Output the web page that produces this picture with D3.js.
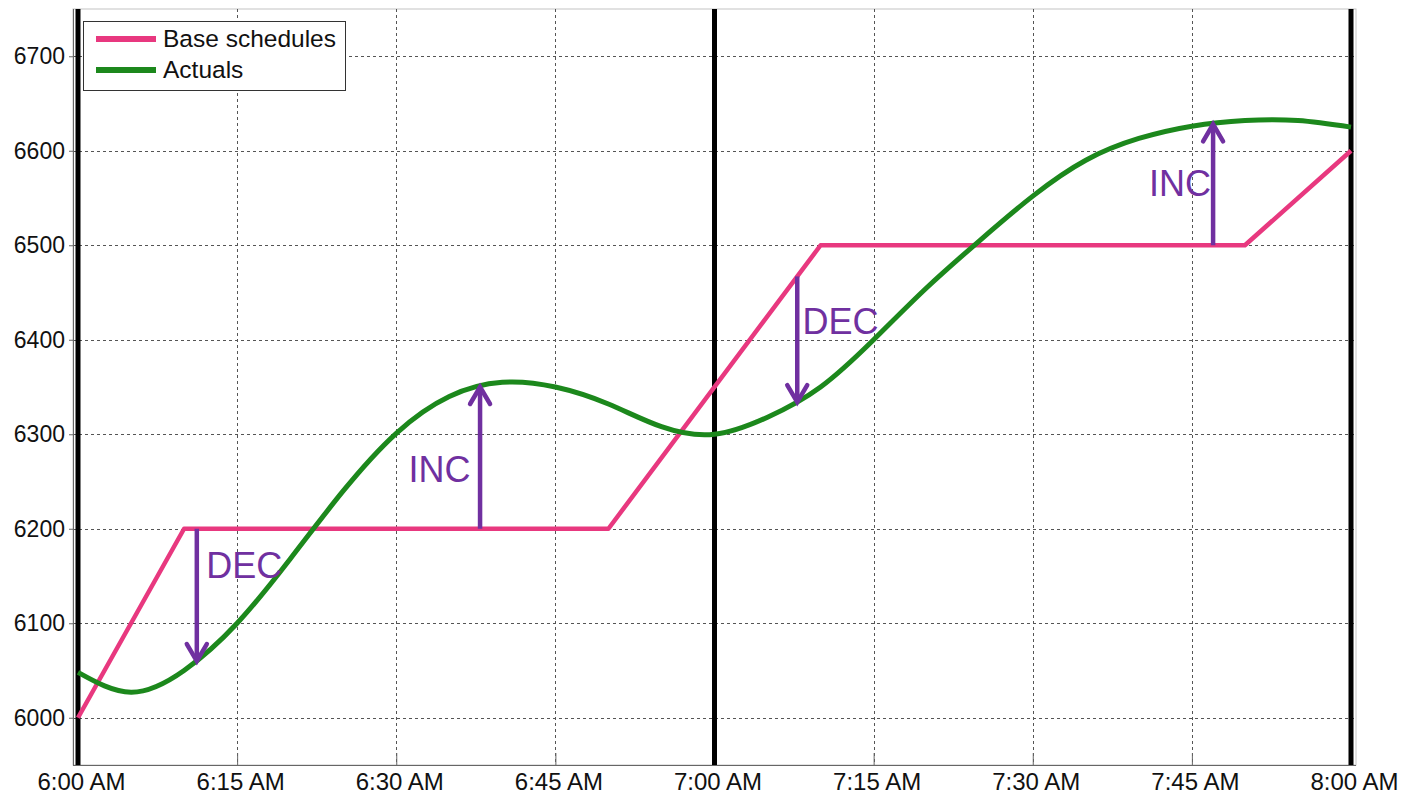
<!DOCTYPE html>
<html><head><meta charset="utf-8">
<script src="https://cdn.jsdelivr.net/npm/d3@7"></script>
<style>
html,body{margin:0;padding:0;background:#fff;}
svg{display:block;font-family:"Liberation Sans",Arial,sans-serif;}
</style></head>
<body>
<svg id="chart" width="1406" height="795"></svg>
<script>
// ---- Data (minutes after 6:00 AM) ----
const baseTimes = [0, 10, 50, 70, 110, 120];
const baseValues = [6000, 6200, 6200, 6500, 6500, 6600];

const actualTimes = [0, 5, 10, 15, 20, 25, 30, 35, 40, 45, 50, 55, 60, 65, 70, 75, 80, 85, 90, 95, 100, 105, 110, 115, 120];
const actualValues = [6048, 6027, 6050, 6100, 6168, 6240, 6301, 6340, 6355, 6350, 6332, 6308, 6300, 6318, 6350, 6400, 6455, 6505, 6552, 6590, 6613, 6626, 6632, 6632, 6625];

const xTickTimes = [0, 15, 30, 45, 60, 75, 90, 105, 120];
const xTickLabels = ["6:00 AM", "6:15 AM", "6:30 AM", "6:45 AM", "7:00 AM", "7:15 AM", "7:30 AM", "7:45 AM", "8:00 AM"];
const yTicks = [6000, 6100, 6200, 6300, 6400, 6500, 6600, 6700];
const hourTimes = [0, 60, 120];

const arrowLabels = ["DEC", "INC", "DEC", "INC"];
const arrowTimes = [11.2, 37.9, 67.8, 107];
const arrowFrom = [6200, 6200, 6467, 6500];
const arrowTo = [6060, 6350, 6334, 6628];
const labelTimes = [12.1, 37.0, 68.3, 106.8];
const labelValues = [6148, 6250, 6406, 6552];
const labelAnchors = ["start", "end", "start", "end"];

const seriesNames = ["Base schedules", "Actuals"];
const seriesColors = ["#E8387F", "#1C881C"];
const arrowColor = "#7030A0";

// ---- Layout ----
const svg = d3.select("#chart");
const frame = {left: 73, right: 1356, top: 9, bottom: 765};
const x = d3.scaleLinear().domain([0, 120]).range([78, 1351]);
const y = d3.scaleLinear().domain([5950, 6750]).range([frame.bottom, frame.top]);

// frame background
svg.append("rect").attr("x", frame.left).attr("y", frame.top)
  .attr("width", frame.right - frame.left).attr("height", frame.bottom - frame.top)
  .attr("fill", "#fff").attr("stroke", "#c4c4c4").attr("stroke-width", 1);

// grid lines
const grid = svg.append("g");
grid.selectAll("line.h").data(yTicks).join("line")
  .attr("x1", frame.left).attr("x2", frame.right)
  .attr("y1", d => Math.round(y(d)) + 0.5).attr("y2", d => Math.round(y(d)) + 0.5)
  .attr("stroke", "#555").attr("stroke-width", 1).attr("stroke-dasharray", "3,3");
grid.selectAll("line.v").data(xTickTimes.filter(t => !hourTimes.includes(t))).join("line")
  .attr("x1", d => Math.round(x(d)) + 0.5).attr("x2", d => Math.round(x(d)) + 0.5)
  .attr("y1", frame.top).attr("y2", frame.bottom)
  .attr("stroke", "#555").attr("stroke-width", 1).attr("stroke-dasharray", "3,3");

// axes
const xAxis = d3.axisBottom(x).tickValues(xTickTimes).tickFormat((d, i) => xTickLabels[i]).tickSizeInner(-12).tickSizeOuter(0).tickPadding(8);
const gx = svg.append("g").attr("transform", `translate(0,${frame.bottom})`).call(xAxis);
gx.select(".domain").attr("d", `M${frame.left},0.5H${frame.right}`).attr("stroke", "#666");
gx.selectAll(".tick line").attr("stroke", "#666");
gx.selectAll(".tick text").attr("font-size", 24).attr("fill", "#111").attr("dx", 3)
  .attr("font-family", '"Liberation Sans",Arial,sans-serif');

const yAxis = d3.axisLeft(y).tickValues(yTicks).tickFormat(d3.format("d")).tickSizeInner(4).tickSizeOuter(0).tickPadding(4);
const gy = svg.append("g").attr("transform", `translate(${frame.left},0)`).call(yAxis);
gy.select(".domain").attr("d", `M0.5,${frame.top}V${frame.bottom}`).attr("stroke", "#666");
gy.selectAll(".tick line").attr("stroke", "#666");
gy.selectAll(".tick text").attr("font-size", 23).attr("fill", "#111")
  .attr("font-family", '"Liberation Sans",Arial,sans-serif');

// thick hour lines
svg.append("g").selectAll("line").data(hourTimes).join("line")
  .attr("x1", d => x(d)).attr("x2", d => x(d))
  .attr("y1", frame.top).attr("y2", frame.bottom)
  .attr("stroke", "#000").attr("stroke-width", 5);

// series
const base = baseTimes.map((t, i) => [t, baseValues[i]]);
const actual = actualTimes.map((t, i) => [t, actualValues[i]]);

svg.append("path").datum(base)
  .attr("d", d3.line().x(d => x(d[0])).y(d => y(d[1])))
  .attr("fill", "none").attr("stroke", seriesColors[0]).attr("stroke-width", 4.5)
  .attr("stroke-linejoin", "round");

svg.append("path").datum(actual)
  .attr("d", d3.line().x(d => x(d[0])).y(d => y(d[1])).curve(d3.curveNatural))
  .attr("fill", "none").attr("stroke", seriesColors[1]).attr("stroke-width", 5)
  .attr("stroke-linejoin", "round");

// arrows
const ag = svg.append("g");
arrowLabels.forEach((lab, i) => {
  const ax = x(arrowTimes[i]);
  const y0 = y(arrowFrom[i]);
  const y1 = y(arrowTo[i]);
  const dir = y1 > y0 ? 1 : -1;
  ag.append("line").attr("x1", ax).attr("x2", ax).attr("y1", y0).attr("y2", y1 - dir * 2)
    .attr("stroke", arrowColor).attr("stroke-width", 4.5);
  ag.append("path")
    .attr("d", `M${ax - 10},${y1 - dir * 17}L${ax},${y1}L${ax + 10},${y1 - dir * 17}`)
    .attr("fill", "none").attr("stroke", arrowColor).attr("stroke-width", 4.5)
    .attr("stroke-linecap", "round").attr("stroke-linejoin", "miter");
  ag.append("text").attr("x", x(labelTimes[i])).attr("y", y(labelValues[i]))
    .attr("text-anchor", labelAnchors[i]).attr("font-size", 36).attr("fill", arrowColor)
    .text(lab);
});

// legend
const lg = svg.append("g");
lg.append("rect").attr("x", 83.5).attr("y", 21.5).attr("width", 262).attr("height", 69)
  .attr("fill", "#fff").attr("stroke", "#333").attr("stroke-width", 1);
const legendY = [39, 70];
seriesNames.forEach((name, i) => {
  lg.append("line").attr("x1", 96).attr("x2", 156).attr("y1", legendY[i]).attr("y2", legendY[i])
    .attr("stroke", seriesColors[i]).attr("stroke-width", 6);
  lg.append("text").attr("x", 163).attr("y", legendY[i] + 8).attr("font-size", 24.5).attr("fill", "#111")
    .text(name);
});
</script>
</body></html>
